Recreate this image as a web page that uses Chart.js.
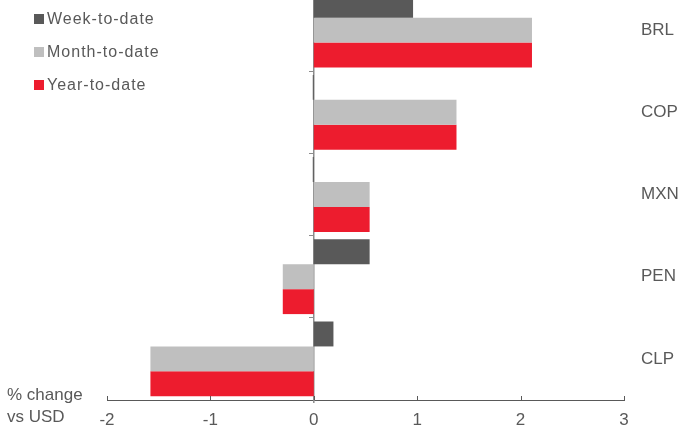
<!doctype html>
<html lang="en">
<head>
    <meta charset="UTF-8">
    <title>LatAm FX vs USD</title>
    <script src="https://cdn.jsdelivr.net/npm/chart.js"></script>
    <style>
        body { margin: 0; background: #fff; }
        #wrap {
            position: relative; width: 682px; height: 430px; overflow: hidden;
            font-family: 'Liberation Sans', Arial, sans-serif; color: #595959;
        }
        /* the plot runs a little past the top edge, so the canvas is pulled up */
        #chartBox { position: absolute; left: 0; top: -11px; width: 682px; height: 441px; }
        #legend { position: absolute; left: 34px; top: 2px; font-size: 16px; line-height: 33px; letter-spacing: 1px; }
        #legend .box { display: inline-block; width: 10px; height: 10px; margin-right: 3px; }
        #unit { position: absolute; left: 7px; top: 384px; font-size: 17px; line-height: 22px; }
    </style>
</head>
<body>
<div id="wrap">
    <div id="chartBox"><canvas id="fxChart"></canvas></div>
    <div id="legend"></div>
    <div id="unit">% change<br>vs USD</div>
</div>
<script>
  const currencies = ['BRL', 'COP', 'MXN', 'PEN', 'CLP'];
  const weekToDate = [0.96, -0.01, -0.01, 0.54, 0.19];
  const monthToDate = [2.11, 1.38, 0.54, -0.30, -1.58];
  const yearToDate = [2.11, 1.38, 0.54, -0.30, -1.58];
  const xTicks = [-2, -1, 0, 1, 2, 3];

  const textColor = '#595959';
  const zeroColor = '#8c8c8c';
  Chart.defaults.font.family = "'Liberation Sans', Arial, sans-serif";
  Chart.defaults.color = textColor;

  // small tick marks standing up from the bottom axis,
  // plus the zero line poking just below it
  const upTicks = {
    id: 'upTicks',
    afterDraw(chart) {
      const x = chart.scales.x;
      const ctx = chart.ctx;
      const bottom = chart.chartArea.bottom;
      ctx.save();
      ctx.strokeStyle = textColor;
      ctx.lineWidth = 1;
      xTicks.forEach((v) => {
        const px = Math.round(x.getPixelForValue(v)) + 0.5;
        ctx.beginPath();
        ctx.moveTo(px, bottom);
        ctx.lineTo(px, bottom - 4);
        ctx.stroke();
      });
      const zx = x.getPixelForValue(0);
      ctx.strokeStyle = zeroColor;
      ctx.lineWidth = 1.5;
      ctx.beginPath();
      ctx.moveTo(zx, bottom);
      ctx.lineTo(zx, bottom + 3);
      ctx.stroke();
      ctx.restore();
    }
  };

  const chart = new Chart(document.getElementById('fxChart'), {
    type: 'bar',
    data: {
      labels: currencies,
      datasets: [
        { label: 'Week-to-date', data: weekToDate, backgroundColor: '#595959' },
        { label: 'Month-to-date', data: monthToDate, backgroundColor: '#bfbfbf' },
        { label: 'Year-to-date', data: yearToDate, backgroundColor: '#ed1c2e' },
      ]
    },
    options: {
      indexAxis: 'y',
      responsive: true,
      maintainAspectRatio: false,
      animation: false,
      categoryPercentage: 0.91,
      barPercentage: 1,
      layout: { padding: { left: 107, right: 0, top: 0, bottom: 0 } },
      plugins: { legend: { display: false }, tooltip: { enabled: false } },
      scales: {
        x: {
          min: -2,
          max: 3,
          afterBuildTicks: (axis) => { axis.ticks = xTicks.map((v) => ({ value: v })); },
          afterFit: (axis) => {
            axis.height = 30;
            axis.paddingLeft = 0;
            axis.paddingRight = 0;
          },
          grid: { display: false, drawTicks: false },
          border: { display: true, color: textColor, width: 1 },
          ticks: { padding: 10, font: { size: 17 }, color: textColor },
        },
        // zero line with short ticks between the currencies
        y: {
          position: { x: 0 },
          offset: true,
          ticks: { display: false },
          grid: { display: true, drawOnChartArea: false, offset: true, tickLength: 4, color: zeroColor },
          border: { display: true, color: zeroColor, width: 1.5 },
        },
        // currency names on the right
        y2: {
          type: 'category',
          axis: 'y',
          position: 'right',
          offset: true,
          afterFit: (axis) => {
            axis.width = 58;
            axis.paddingTop = 0;
            axis.paddingBottom = 0;
          },
          grid: { display: false, drawTicks: false },
          border: { display: false },
          ticks: { padding: 17, font: { size: 17 }, color: textColor },
        },
      }
    },
    plugins: [upTicks]
  });

  // legend stacked in the top-left corner
  const legend = document.getElementById('legend');
  chart.data.datasets.forEach((ds) => {
    const row = document.createElement('div');
    row.innerHTML = '<span class="box" style="background:' + ds.backgroundColor + '"></span>' + ds.label;
    legend.appendChild(row);
  });
</script>
</body>
</html>
